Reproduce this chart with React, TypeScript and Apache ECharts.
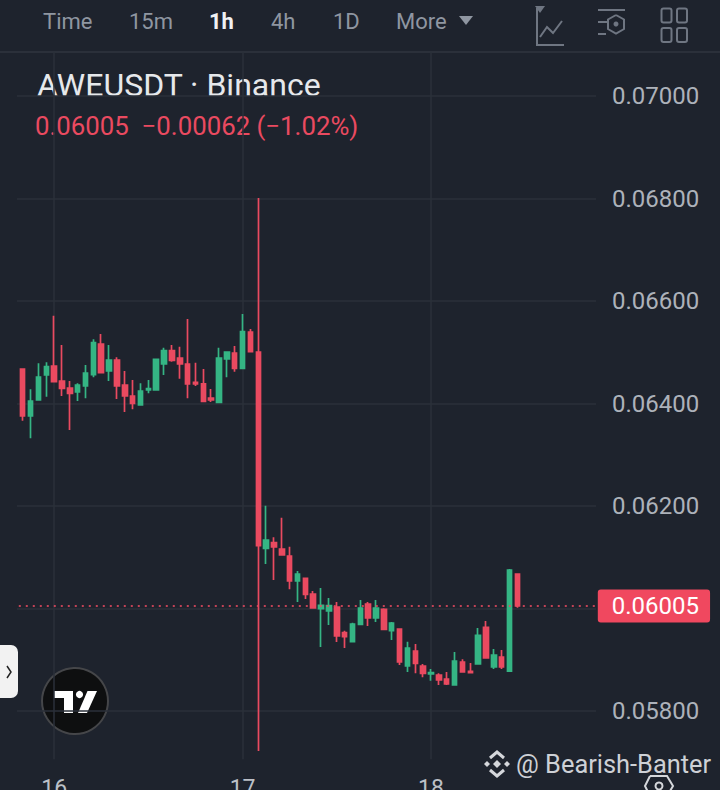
import React, { useEffect, useRef } from "react";
import * as echarts from "echarts";

const opens = [
  0.064673, 0.063756, 0.064068, 0.064556, 0.064732, 0.064439, 0.064302, 0.064224, 0.064341, 0.064563,
  0.065161, 0.064634, 0.064849, 0.064361, 0.064146, 0.063971, 0.064263, 0.064263, 0.064771, 0.065031,
  0.064888, 0.064771, 0.064413, 0.064381, 0.064107, 0.064023, 0.064868, 0.064985, 0.064686, 0.065395,
  0.065005, 0.061174, 0.061285, 0.061161, 0.061024, 0.060537, 0.060589, 0.060283, 0.059997, 0.059951,
  0.060029, 0.059528, 0.059353, 0.059691, 0.060088, 0.059815, 0.059984, 0.059568, 0.0596, 0.058878,
  0.059171, 0.058878, 0.058722, 0.058702, 0.058624, 0.058507, 0.058956, 0.058774, 0.058917, 0.059632,
  0.058859, 0.059054, 0.05878, 0.060673,
];
const closes = [
  0.063756, 0.064049, 0.064517, 0.064719, 0.064426, 0.064296, 0.064198, 0.064361, 0.064595, 0.065187,
  0.064602, 0.064849, 0.064341, 0.064146, 0.064003, 0.064244, 0.064289, 0.064862, 0.065031, 0.064842,
  0.064771, 0.064381, 0.064381, 0.064042, 0.064068, 0.064888, 0.065005, 0.064686, 0.065402, 0.065011,
  0.061226, 0.061337, 0.0612, 0.061044, 0.060537, 0.060673, 0.060276, 0.06001, 0.060062, 0.060055,
  0.059463, 0.05945, 0.059698, 0.06001, 0.059815, 0.06001, 0.059594, 0.059717, 0.058956, 0.059229,
  0.05893, 0.058735, 0.058748, 0.058605, 0.058527, 0.058976, 0.058761, 0.058748, 0.059476, 0.059034,
  0.059093, 0.058859, 0.060751, 0.06005,
];
const lows = [
  0.063665, 0.06332, 0.064068, 0.064133, 0.064426, 0.064146, 0.063483, 0.064049, 0.064101, 0.064511,
  0.064602, 0.064439, 0.064088, 0.063834, 0.063886, 0.063971, 0.064198, 0.064263, 0.064556, 0.064816,
  0.064485, 0.064101, 0.064341, 0.064029, 0.064029, 0.064003, 0.064511, 0.064621, 0.064673, 0.065011,
  0.05722, 0.060868, 0.060556, 0.061044, 0.060374, 0.060127, 0.060185, 0.06001, 0.059249, 0.059678,
  0.059346, 0.059229, 0.059353, 0.059672, 0.059659, 0.059737, 0.059574, 0.059385, 0.058898, 0.058761,
  0.058735, 0.058657, 0.058592, 0.058507, 0.058507, 0.058507, 0.058761, 0.058741, 0.058917, 0.059034,
  0.058819, 0.058819, 0.05878, 0.060016,
];
const highs = [
  0.064673, 0.064276, 0.064784, 0.064803, 0.065714, 0.065141, 0.064439, 0.064394, 0.064751, 0.065252,
  0.065356, 0.065141, 0.064901, 0.064634, 0.064459, 0.064394, 0.064459, 0.064862, 0.065089, 0.065141,
  0.065109, 0.065649, 0.064797, 0.064673, 0.064283, 0.065089, 0.065005, 0.065122, 0.065746, 0.065454,
  0.06801, 0.062007, 0.061389, 0.061772, 0.061207, 0.060732, 0.060589, 0.060342, 0.0604, 0.060205,
  0.060127, 0.059567, 0.059724, 0.060166, 0.060127, 0.060166, 0.060003, 0.059737, 0.0596, 0.059353,
  0.059307, 0.058917, 0.058819, 0.058735, 0.058761, 0.059151, 0.059008, 0.058937, 0.059619, 0.059756,
  0.05921, 0.05919, 0.060771, 0.060673,
];

const dayLabels = ["16", "17", "18"];
const priceTicks = ["0.07000", "0.06800", "0.06600", "0.06400", "0.06200", "0.05800"];
const lastPrice = 0.06005;
const symbolTitle = "AWEUSDT · Binance";
const quoteLine = "0.06005  −0.00062 (−1.02%)";
const watermark = "@ Bearish-Banter";
const toolbar: [string, number][] = [["Time", 43], ["15m", 129], ["1h", 209], ["4h", 271], ["1D", 333], ["More", 396]];

// One category per hour, from 20:00 on the 15th; midnights carry the day number.
const hours: string[] = [];
for (let i = 0; i < 74; i++) {
  const rel = i - 4;
  const day = 16 + Math.floor(rel / 24);
  const h = ((rel % 24) + 24) % 24;
  hours.push(h === 0 ? String(day) : `${day}-${h}`);
}

const BG = "#1e232d";
const GRID = "#2b303a";
const RED = "#ea4a60";
const GREEN = "#35b584";
const GREY = "#8f96a1";
const ICON = "#6f7682";
const FONT = "Roboto, sans-serif";

const txt = (text: string, x: number, y: number, size: number, fill: string, weight = "normal", align = "left") => ({
  type: "text",
  x,
  y,
  silent: true,
  style: { text, fill, font: `${weight} ${size}px ${FONT}`, textAlign: align, textVerticalAlign: "middle" },
});
const poly = (points: number[][], stroke: string, lineWidth = 2) => ({
  type: "polyline",
  silent: true,
  shape: { points },
  style: { stroke, lineWidth, fill: "none" },
});
const rect = (x: number, y: number, width: number, height: number, r: number, style: any) => ({
  type: "rect",
  silent: true,
  shape: { x, y, width, height, r },
  style,
});
const polygon = (points: number[][], fill: string) => ({
  type: "polygon",
  silent: true,
  shape: { points },
  style: { fill },
});

export default function App() {
  const ref = useRef<HTMLDivElement>(null);
  useEffect(() => {
    const chart = echarts.init(ref.current!, undefined, { renderer: "svg" });
    const candles = opens.map((o, i) => [o, closes[i], lows[i], highs[i]]);
    const option: any = {
      animation: false,
      backgroundColor: BG,
      grid: [
        { left: 17, width: 579, top: -6.5, height: 820, outerBoundsMode: "none" },
        { left: 18.8, width: 581, top: 44.75, height: 717.5, outerBoundsMode: "none" },
      ],
      xAxis: [
        { type: "value", gridIndex: 0, show: false, min: 0, max: 1 },
        {
          type: "category",
          gridIndex: 1,
          data: hours,
          boundaryGap: true,
          axisLine: { show: false },
          axisTick: { show: false },
          splitLine: { show: false },
          axisLabel: {
            interval: (_: number, v: string) => dayLabels.includes(v),
            formatter: (v: string) => v,
            margin: 15,
            verticalAlign: "top",
            color: "#bcc0c7",
            fontSize: 23,
            fontFamily: FONT,
          },
        },
      ],
      yAxis: [
        {
          type: "value",
          gridIndex: 0,
          position: "right",
          min: 0.056,
          max: 0.072,
          interval: 0.002,
          axisLine: { show: false },
          axisTick: { show: false },
          splitLine: { show: true, lineStyle: { color: GRID, width: 1.5 } },
          axisLabel: {
            margin: 16,
            color: "#adb2ba",
            fontSize: 24,
            fontFamily: FONT,
            formatter: (v: number) => {
              const s = v.toFixed(5);
              return priceTicks.includes(s) ? s : "";
            },
          },
        },
        {
          type: "value",
          gridIndex: 1,
          show: false,
          min: 0.057,
          max: 0.071,
          splitLine: { show: false },
        },
      ],
      series: [
        {
          type: "line",
          name: "days",
          xAxisIndex: 1,
          yAxisIndex: 1,
          data: [],
          z: 1,
          silent: true,
          markLine: {
            silent: true,
            symbol: "none",
            precision: 6,
            z: 1,
            label: { show: false },
            lineStyle: { color: GRID, width: 1.5, type: "solid" },
            data: dayLabels.map((d) => [
              { xAxis: d, yAxis: 0.07086 },
              { xAxis: d, yAxis: 0.05706 },
            ]),
          },
        },
        {
          type: "candlestick",
          xAxisIndex: 1,
          yAxisIndex: 1,
          data: candles,
          barWidth: 5,
          z: 3,
          silent: true,
          itemStyle: {
            color: GREEN,
            color0: RED,
            borderColor: GREEN,
            borderColor0: RED,
            borderWidth: 1.7,
          },
        },
        {
          type: "line",
          name: "last",
          xAxisIndex: 1,
          yAxisIndex: 1,
          data: [],
          z: 5,
          silent: true,
          markLine: {
            silent: true,
            symbol: "none",
            precision: 6,
            z: 5,
            lineStyle: { color: "rgba(234,74,96,0.8)", width: 2, type: [2, 5] },
            label: {
              show: true,
              position: "end",
              distance: -2,
              formatter: lastPrice.toFixed(5),
              color: "#ffffff",
              backgroundColor: "#f0485f",
              borderRadius: 3,
              padding: [5, 11, 4, 14],
              fontSize: 24,
              fontFamily: FONT,
            },
            data: [{ yAxis: lastPrice }],
          },
        },
      ],
      graphic: [
        rect(0, 0, 720, 51, 0, { fill: BG }),
        { type: "line", silent: true, shape: { x1: 0, y1: 52, x2: 720, y2: 52 }, style: { stroke: GRID, lineWidth: 2 } },
        ...toolbar.map(([t, x]) => txt(t, x, 21, 22, t === "1h" ? "#f0f1f3" : GREY, t === "1h" ? "bold" : "normal")),
        polygon([[459, 16], [473, 16], [466, 25]], GREY),
        // line-chart icon
        poly([[537, 8], [537, 45], [564, 45]], ICON),
        polygon([[535, 6], [545, 6], [540, 13]], ICON),
        poly([[540, 37], [547, 27], [553, 33], [562, 21]], ICON),
        // settings icon
        poly([[598, 10], [625, 10]], ICON),
        poly([[598, 22], [608, 22]], ICON),
        poly([[598, 34], [606, 34]], ICON),
        poly([[616, 15], [624, 19.5], [624, 29], [616, 33.5], [608, 29], [608, 19.5], [616, 15]], ICON),
        { type: "circle", silent: true, shape: { cx: 616, cy: 24, r: 2.5 }, style: { fill: ICON } },
        // layout icon
        rect(661.5, 8.5, 10, 14, 2, { stroke: ICON, lineWidth: 2, fill: "none" }),
        rect(677, 8.5, 10, 14, 2, { stroke: ICON, lineWidth: 2, fill: "none" }),
        rect(661.5, 28, 10, 14, 2, { stroke: ICON, lineWidth: 2, fill: "none" }),
        rect(677, 28, 10, 14, 2, { stroke: ICON, lineWidth: 2, fill: "none" }),
        txt(symbolTitle, 37, 85, 32, "#e6e8eb"),
        txt(quoteLine, 35, 126, 25.8, RED),
        // collapse handle
        rect(0, 645, 18, 53, [0, 7, 7, 0] as any, { fill: "#f2f2f2" }),
        poly([[7, 666], [11, 672], [7, 678]], "#222", 1.5),
        // TradingView badge
        { type: "circle", silent: true, shape: { cx: 75, cy: 701, r: 33 }, style: { fill: "#0e0f10", stroke: "#454649", lineWidth: 2 } },
        polygon([[54, 691], [73, 691], [73, 713], [64, 713], [64, 698], [54, 698]], "#ffffff"),
        { type: "circle", silent: true, shape: { cx: 79.5, cy: 694.5, r: 3.6 }, style: { fill: "#ffffff" } },
        polygon([[87.5, 691], [97, 691], [87, 713], [78, 713]], "#ffffff"),
        // Binance watermark
        polygon([[497, 760], [501, 764], [497, 768], [493, 764]], "#d5d7db"),
        poly([[490, 758], [497, 752], [504, 758]], "#d5d7db", 3),
        poly([[490, 770], [497, 776], [504, 770]], "#d5d7db", 3),
        polygon([[487, 761], [490, 764], [487, 767], [484, 764]], "#d5d7db"),
        polygon([[507, 761], [510, 764], [507, 767], [504, 764]], "#d5d7db"),
        txt(watermark, 516, 764, 25.4, "#ced1d6"),
        // bottom hexagon
        poly([[650, 776], [667, 776], [673, 786], [667, 796], [650, 796], [645, 786], [650, 776]], "#d5d7db", 2),
        { type: "circle", silent: true, shape: { cx: 659, cy: 786, r: 3.5 }, style: { fill: "none", stroke: "#d5d7db", lineWidth: 2 } },
      ],
    };
    chart.setOption(option);
    return () => chart.dispose();
  }, []);
  return <div ref={ref} style={{ position: "absolute", left: 0, top: 0, width: 720, height: 790 }} />;
}
